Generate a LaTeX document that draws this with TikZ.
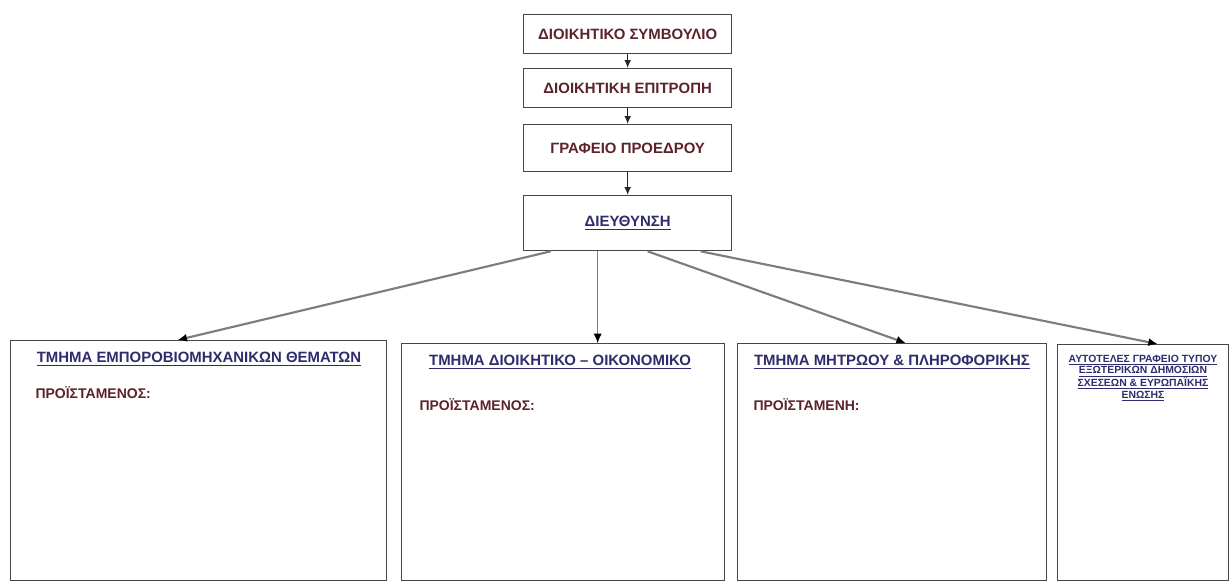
\documentclass[tikz,border=0pt]{standalone}
\usepackage{fontspec}
\setmainfont{Liberation Sans}
\usetikzlibrary{arrows.meta,calc}

\definecolor{boxtext}{RGB}{92,34,44}
\definecolor{headtext}{RGB}{46,44,108}
\definecolor{framegray}{RGB}{70,70,70}
\definecolor{linkgray}{RGB}{125,125,125}

\tikzset{every picture/.style={line width=0.75pt}}
\tikzset{
  orgbox/.style={draw=framegray, line width=1pt, fill=white, inner sep=0pt, anchor=north west},
  topbox/.style={orgbox, minimum width=156pt, text=boxtext, font=\fontsize{11.2}{13.4}\selectfont\bfseries},
  plainlabel/.style={inner sep=0.75pt, text=boxtext, font=\fontsize{10.5}{12.6}\selectfont\bfseries},
  headlabel/.style={inner sep=0.75pt, text=headtext, font=\fontsize{11.2}{13.4}\selectfont\bfseries},
  smalllabel/.style={headlabel, align=center, font=\fontsize{7.8}{8.7}\selectfont\bfseries},
  downlink/.style={draw=black!85, line width=0.9pt, -{Latex[length=6pt,width=5pt]}},
  fanlink/.style={draw=linkgray, line width=1.6pt, -{Latex[length=7pt,width=6pt,color=black]}}
}

\begin{document}
\begin{tikzpicture}[x=0.75pt,y=0.75pt,yscale=-1,xscale=1]
\path[use as bounding box] (0,0) rectangle (1230,582);

%Shape: Rectangle (top chain)
\node[topbox, minimum height=29.25pt] (board) at (523,14) {ΔΙΟΙΚΗΤΙΚΟ ΣΥΜΒΟΥΛΙΟ};
%Shape: Rectangle
\node[topbox, minimum height=29.25pt] (committee) at (523,68) {ΔΙΟΙΚΗΤΙΚΗ ΕΠΙΤΡΟΠΗ};
%Shape: Rectangle
\node[topbox, minimum height=35.25pt] (office) at (523,124) {ΓΡΑΦΕΙΟ ΠΡΟΕΔΡΟΥ};
%Shape: Rectangle
\node[topbox, minimum height=41.25pt, text=headtext] (direct) at (523,195) {\underline{ΔΙΕΥΘΥΝΣΗ}};

%Shape: Rectangle (departments)
\node[orgbox, minimum width=282pt, minimum height=180pt] (deptA) at (10,340) {};
%Shape: Rectangle
\node[orgbox, minimum width=242.25pt, minimum height=177.75pt] (deptB) at (401,343) {};
%Shape: Rectangle
\node[orgbox, minimum width=231.75pt, minimum height=177.75pt] (deptC) at (737,343) {};
%Shape: Rectangle
\node[orgbox, minimum width=128.25pt, minimum height=177pt] (deptD) at (1057,344) {};

%Straight Lines
\draw[downlink] (board.south) -- (committee.north);
%Straight Lines
\draw[downlink] (committee.south) -- (office.north);
%Straight Lines
\draw[downlink] (office.south) -- (direct.north);

%Straight Lines
\draw[fanlink] ($(direct.south)+(-77,0)$) -- ($(deptA.north)+(-21,0)$);
%Straight Lines
\draw[fanlink, line width=0.6pt] ($(direct.south)+(-30,0)$) -- ($(deptB.north)+(34.5,0)$);
%Straight Lines
\draw[fanlink] ($(direct.south)+(20,0)$) -- ($(deptC.north)+(13.5,0)$);
%Straight Lines
\draw[fanlink] ($(direct.south)+(73,0)$) -- ($(deptD.north)+(14.5,0)$);

% Text Node
\node[headlabel] (headA) at (199,359) {\underline{ΤΜΗΜΑ ΕΜΠΟΡΟΒΙΟΜΗΧΑΝΙΚΩΝ ΘΕΜΑΤΩΝ}};
% Text Node
\node[plainlabel, anchor=west] (chiefA) at (34,393) {ΠΡΟΪΣΤΑΜΕΝΟΣ:};
% Text Node
\node[headlabel] (headB) at (560,362) {\underline{ΤΜΗΜΑ ΔΙΟΙΚΗΤΙΚΟ – ΟΙΚΟΝΟΜΙΚΟ}};
% Text Node
\node[plainlabel, anchor=west] (chiefB) at (418,405) {ΠΡΟΪΣΤΑΜΕΝΟΣ:};
% Text Node
\node[headlabel] (headC) at (892,362) {\underline{ΤΜΗΜΑ ΜΗΤΡΩΟΥ \& ΠΛΗΡΟΦΟΡΙΚΗΣ}};
% Text Node
\node[plainlabel, anchor=west] (chiefC) at (752,405) {ΠΡΟΪΣΤΑΜΕΝΗ:};
% Text Node
\node[smalllabel] (headD) at (1143,378) {\underline{ΑΥΤΟΤΕΛΕΣ ΓΡΑΦΕΙΟ ΤΥΠΟΥ}\\\underline{ΕΞΩΤΕΡΙΚΩΝ ΔΗΜΟΣΙΩΝ}\\\underline{ΣΧΕΣΕΩΝ \& ΕΥΡΩΠΑΪΚΗΣ}\\\underline{ΕΝΩΣΗΣ}};

\end{tikzpicture}
\end{document}
